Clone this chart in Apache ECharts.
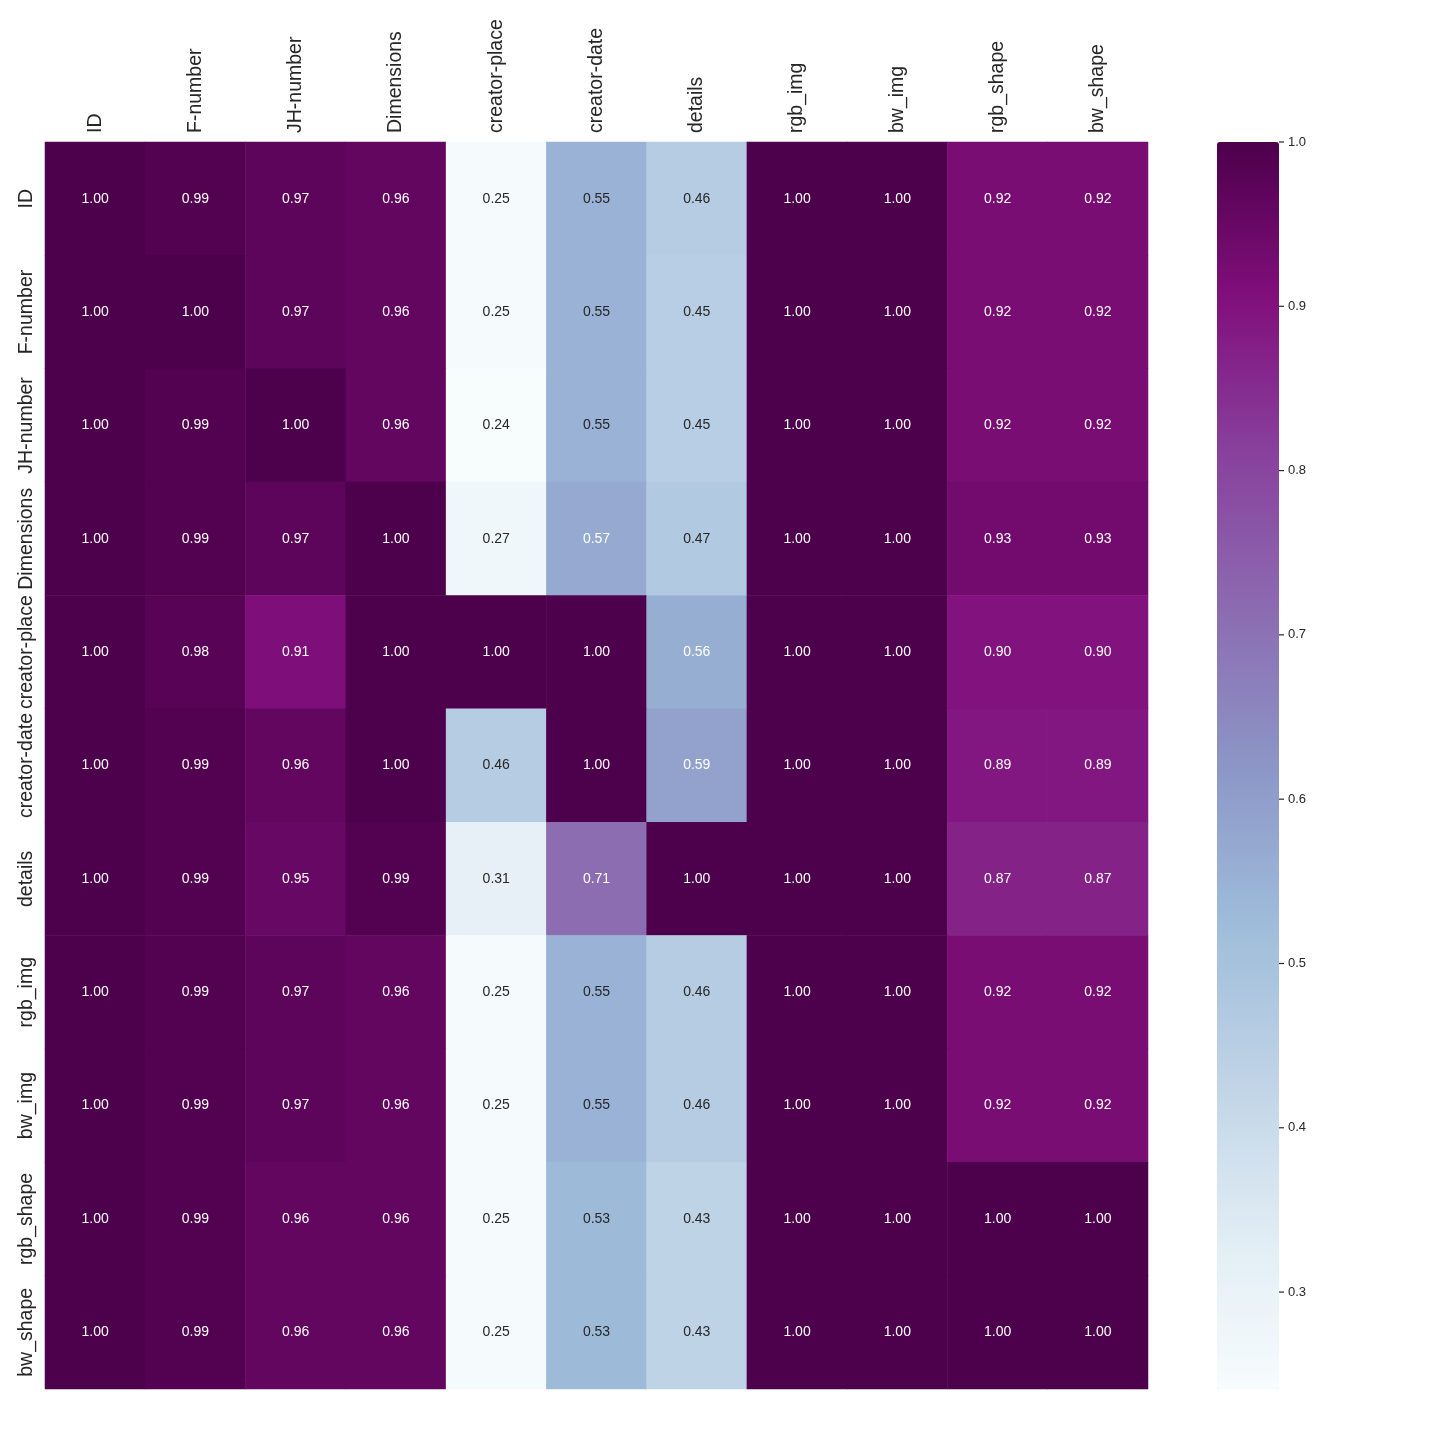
<!DOCTYPE html>
<html>
<head>
<meta charset="utf-8">
<script src="https://cdn.jsdelivr.net/npm/echarts@6/dist/echarts.min.js"></script>
<style>
  html, body { margin:0; padding:0; background:#fff; }
  #main { width:1440px; height:1440px; }
</style>
</head>
<body>
<div id="main"></div>
<script>
var columns = ['ID','F-number','JH-number','Dimensions','creator-place','creator-date','details','rgb_img','bw_img','rgb_shape','bw_shape'];
var rows = columns.slice();

// correlation values, one array per row (top to bottom)
var rowID          = [1.00,0.99,0.97,0.96,0.25,0.55,0.46,1.00,1.00,0.92,0.92];
var rowFnumber     = [1.00,1.00,0.97,0.96,0.25,0.55,0.45,1.00,1.00,0.92,0.92];
var rowJHnumber    = [1.00,0.99,1.00,0.96,0.24,0.55,0.45,1.00,1.00,0.92,0.92];
var rowDimensions  = [1.00,0.99,0.97,1.00,0.27,0.57,0.47,1.00,1.00,0.93,0.93];
var rowCreatorPl   = [1.00,0.98,0.91,1.00,1.00,1.00,0.56,1.00,1.00,0.90,0.90];
var rowCreatorDt   = [1.00,0.99,0.96,1.00,0.46,1.00,0.59,1.00,1.00,0.89,0.89];
var rowDetails     = [1.00,0.99,0.95,0.99,0.31,0.71,1.00,1.00,1.00,0.87,0.87];
var rowRgbImg      = [1.00,0.99,0.97,0.96,0.25,0.55,0.46,1.00,1.00,0.92,0.92];
var rowBwImg       = [1.00,0.99,0.97,0.96,0.25,0.55,0.46,1.00,1.00,0.92,0.92];
var rowRgbShape    = [1.00,0.99,0.96,0.96,0.25,0.53,0.43,1.00,1.00,1.00,1.00];
var rowBwShape     = [1.00,0.99,0.96,0.96,0.25,0.53,0.43,1.00,1.00,1.00,1.00];
var matrix = [rowID,rowFnumber,rowJHnumber,rowDimensions,rowCreatorPl,rowCreatorDt,
              rowDetails,rowRgbImg,rowBwImg,rowRgbShape,rowBwShape];

var colorbarTicks = [0.3,0.4,0.5,0.6,0.7,0.8,0.9,1.0];
var vmin = 0.241, vmax = 1.0;

var bupu = ['#f7fcfd','#e0ecf4','#bfd3e6','#9ebcda','#8c96c6','#8c6bb1','#88419d','#810f7c','#4d004b'];
var font = "'Liberation Sans', Arial, sans-serif";

var cells = [];
for (var r = 0; r < matrix.length; r++) {
  for (var c = 0; c < matrix[r].length; c++) {
    var v = matrix[r][c];
    cells.push({
      value: [c, r, v],
      label: { color: v > 0.555 ? '#ffffff' : '#262626' }
    });
  }
}

var chart = echarts.init(document.getElementById('main'));
var option = {
  backgroundColor: '#fff',
  animation: false,
  grid: [
    { left: 45, top: 142, width: 1103, height: 1247 },
    { left: 1217, top: 142, width: 62, height: 1247 }
  ],
  xAxis: [{
    type: 'category',
    data: columns,
    position: 'top',
    axisLine: { show: false },
    axisTick: { show: false },
    splitArea: { show: false },
    axisLabel: { rotate: -90, interval: 0, margin: 9, fontSize: 19.5, color: '#262626', fontFamily: font }
  }, {
    gridIndex: 1, type: 'value', show: false, min: 0, max: 1
  }],
  yAxis: [{
    type: 'category',
    data: rows,
    inverse: true,
    axisLine: { show: false },
    axisTick: { show: false },
    splitArea: { show: false },
    axisLabel: { rotate: 90, interval: 0, hideOverlap: false, margin: 8, fontSize: 19.5, color: '#262626', fontFamily: font }
  }, {
    gridIndex: 1,
    type: 'value',
    position: 'right',
    min: vmin,
    max: vmax,
    axisLine: { show: false },
    splitLine: { show: false },
    axisTick: { show: false },
    axisLabel: {
      margin: 0, color: '#262626', fontFamily: font,
      customValues: colorbarTicks,
      formatter: function (v) { return '{t|}{v|' + v.toFixed(1) + '}'; },
      rich: {
        t: { width: 5, height: 1.2, backgroundColor: '#262626', verticalAlign: 'middle' },
        v: { fontSize: 13, color: '#262626', fontFamily: font, padding: [0, 0, 0, 4], verticalAlign: 'middle' }
      }
    }
  }],
  visualMap: {
    type: 'continuous',
    seriesIndex: 0,
    min: vmin,
    max: vmax,
    left: 1217,
    top: 142,
    itemWidth: 62,
    itemHeight: 1247,
    padding: 0,
    text: ['', ''],
    calculable: false,
    hoverLink: false,
    inRange: { color: bupu }
  },
  series: [{
    type: 'heatmap',
    data: cells,
    label: {
      show: true,
      fontSize: 14,
      fontFamily: font,
      formatter: function (p) { return p.value[2].toFixed(2); }
    },
    emphasis: { disabled: true },
    itemStyle: { borderWidth: 0 }
  }, {
    type: 'scatter',
    xAxisIndex: 1,
    yAxisIndex: 1,
    data: []
  }]
};
chart.setOption(option);
</script>
</body>
</html>
